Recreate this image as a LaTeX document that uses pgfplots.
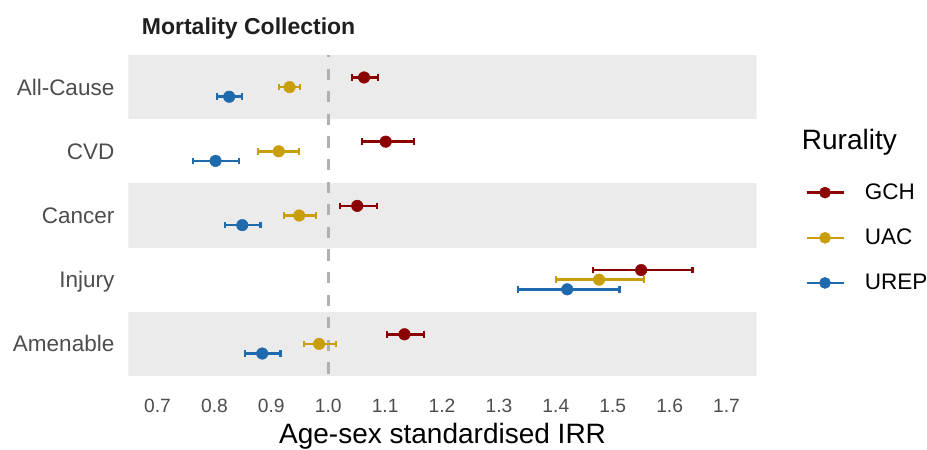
\documentclass[border=0pt]{standalone}
\usepackage{pgfplots}
\usepackage{pgfplotstable}
\pgfplotsset{compat=1.18}
\usepackage{fontspec}
\setmainfont{Liberation Sans}
\definecolor{gch}{HTML}{8B0000}
\definecolor{uac}{HTML}{C99E0B}
\definecolor{urep}{HTML}{1F69AD}
\definecolor{band}{HTML}{EBEBEB}
\definecolor{ticktext}{HTML}{4D4D4D}
\definecolor{refline}{HTML}{B0B0B0}

% y position: category index (All-Cause=5 ... Amenable=1) with dodge
\pgfplotstableread{
y est lo hi
5.15 1.063 1.042 1.087
4.15 1.101 1.059 1.151
3.15 1.051 1.021 1.086
2.15 1.550 1.465 1.640
1.15 1.134 1.103 1.168
}\gchdata
\pgfplotstableread{
y est lo hi
5 0.932 0.913 0.951
4 0.913 0.877 0.949
3 0.949 0.922 0.978
2 1.476 1.400 1.555
1 0.984 0.958 1.013
}\uacdata
\pgfplotstableread{
y est lo hi
4.85 0.826 0.805 0.848
3.85 0.802 0.762 0.843
2.85 0.849 0.819 0.881
1.85 1.420 1.333 1.512
0.85 0.884 0.854 0.916
}\urepdata

\pgfplotsset{
  forest/.style={#1, only marks, mark=*, mark size=5.8pt, mark options={draw=#1, fill=#1},
    legend image code/.code={\draw[line width=2.6pt] (0pt,0pt) -- (37pt,0pt); \fill (18.5pt,0pt) circle (5.6pt);},
    error bars/.cd, x dir=both, x explicit,
    error bar style={line width=2.5pt, #1},
    error mark options={#1, rotate=90, line width=2.2pt, mark size=3.3pt}},
}

\begin{document}
\begin{tikzpicture}
\useasboundingbox (0,0) rectangle (927pt,450pt);
\begin{axis}[
  at={(128.5pt,74pt)}, anchor=south west,
  scale only axis, width=628.2pt, height=321pt,
  xmin=0.649, xmax=1.753, ymin=0.5, ymax=5.5,
  axis line style={draw=none},
  major tick length=0pt,
  tick style={draw=none},
  xtick={0.7,0.8,0.9,1.0,1.1,1.2,1.3,1.4,1.5,1.6,1.7},
  xticklabels={0.7,0.8,0.9,1.0,1.1,1.2,1.3,1.4,1.5,1.6,1.7},
  ytick={1,2,3,4,5},
  yticklabels={Amenable,Injury,Cancer,CVD,All-Cause},
  xticklabel style={font=\fontsize{19.2}{23}\selectfont, text=ticktext, anchor=base, inner sep=0pt, yshift=-37pt},
  yticklabel style={font=\fontsize{22.5}{27}\selectfont, text=ticktext, anchor=base east, inner sep=0pt, xshift=-14pt, yshift=-8.1pt},
  xlabel={Age-sex standardised IRR},
  xlabel style={font=\fontsize{28}{33}\selectfont, at={(axis description cs:0.5,0)}, anchor=base, inner sep=0pt, yshift=-67pt},
  title={Mortality Collection},
  title style={font=\bfseries\fontsize{23}{28}\selectfont, at={(axis description cs:0,1)}, anchor=base west, inner sep=0pt, xshift=13.2pt, yshift=14pt, text=black!88},
  legend style={draw=none, fill=none, at={(axis description cs:1.0769,0.4308)}, anchor=west,
    inner sep=0pt, row sep=28pt, nodes={inner sep=0pt, font=\fontsize{22.5}{27}\selectfont},
    /tikz/every odd column/.append style={column sep=20pt}},
  legend cell align=left,
]
\fill[band] (axis cs:0.649,4.5) rectangle (axis cs:1.753,5.5);
\fill[band] (axis cs:0.649,2.5) rectangle (axis cs:1.753,3.5);
\fill[band] (axis cs:0.649,0.5) rectangle (axis cs:1.753,1.5);
\addplot[refline, line width=2.6pt, dash pattern=on 11.3pt off 11.3pt, dash phase=9pt, forget plot] coordinates {(1,5.5) (1,0.5)};

\addplot[forest=gch]
  table[x=est, y=y, x error plus expr=\thisrow{hi}-\thisrow{est}, x error minus expr=\thisrow{est}-\thisrow{lo}] {\gchdata};
\addlegendentry{GCH}
\addplot[forest=uac]
  table[x=est, y=y, x error plus expr=\thisrow{hi}-\thisrow{est}, x error minus expr=\thisrow{est}-\thisrow{lo}] {\uacdata};
\addlegendentry{UAC}
\addplot[forest=urep]
  table[x=est, y=y, x error plus expr=\thisrow{hi}-\thisrow{est}, x error minus expr=\thisrow{est}-\thisrow{lo}] {\urepdata};
\addlegendentry{UREP}
\end{axis}
\node[anchor=base west, inner sep=0pt, font=\fontsize{28}{33}\selectfont] at (801.7pt,300pt) {Rurality};
\end{tikzpicture}
\end{document}
